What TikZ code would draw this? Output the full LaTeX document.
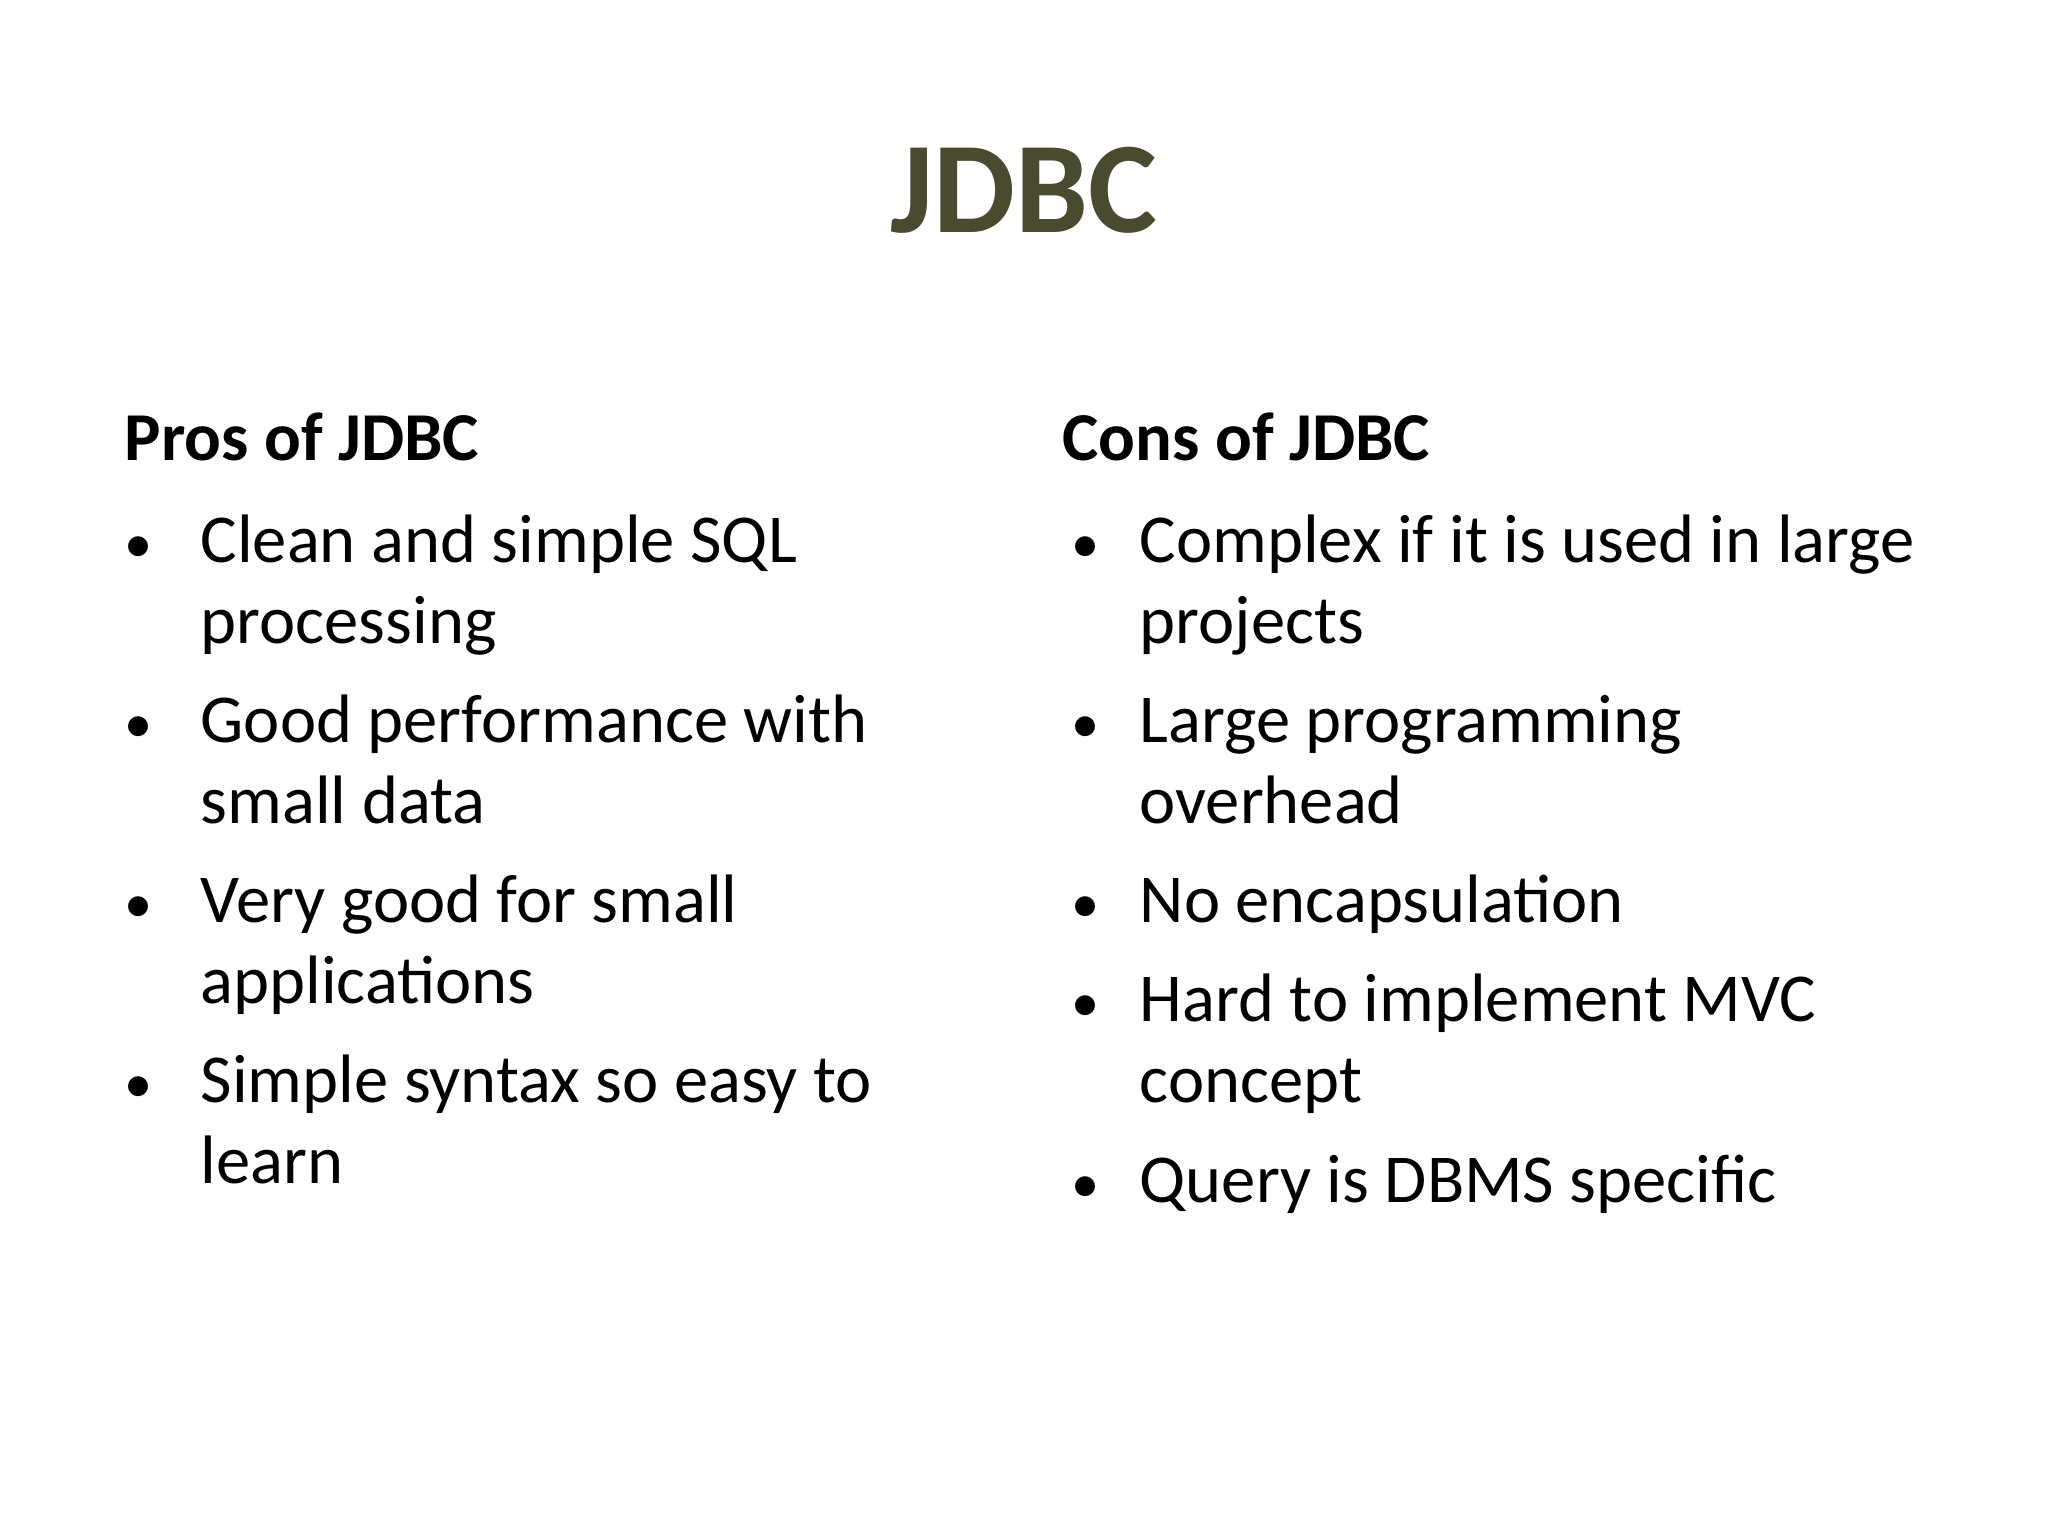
\documentclass[tikz,border=0pt]{standalone}
\usepackage{fontspec}
\setmainfont{Carlito}
\definecolor{titlecol}{HTML}{4A4A30}
\begin{document}
\begin{tikzpicture}[x=0.01cm,y=-0.01cm,
  txt/.style={anchor=base west,inner sep=0pt,font=\fontsize{19.5pt}{23pt}\selectfont},
  hd/.style={txt,font=\bfseries\fontsize{19.5pt}{23pt}\selectfont},
  bul/.style={anchor=base west,inner sep=0pt,font=\fontsize{16pt}{23pt}\selectfont}]
\useasboundingbox[fill=white] (0,0) rectangle (2048,1536);
\node[anchor=base,inner sep=0pt,text=titlecol,font=\bfseries\fontsize{37pt}{44pt}\selectfont] (title) at (1024,232) {JDBC};
\node[hd] (pros) at (124,460) {Pros of JDBC};
\node[hd] (cons) at (1062,460) {Cons of JDBC};
\foreach \y/\a/\b [count=\i] in {562/{Clean and simple SQL}/{processing},742/{Good performance with}/{small data},922/{Very good for small}/{applications},1102/{Simple syntax so easy to}/{learn}}{
  \node[bul] (pb\i) at (124,\y) {•};
  \node[txt] (p\i) at (200,\y) {\a};
  \node[txt] (q\i) at (200,\y+81) {\b};
}
\foreach \y/\t [count=\i] in {562/{Complex if it is used in large},742/{Large programming},922/{No encapsulation},1021/{Hard to implement MVC},1202/{Query is DBMS specific}}{
  \node[bul] (cb\i) at (1071,\y) {•};
  \node[txt] (c\i) at (1139,\y) {\t};
}
\node[txt] (d1) at (1139,643) {projects};
\node[txt] (d2) at (1139,823) {overhead};
\node[txt] (d4) at (1139,1102) {concept};
\end{tikzpicture}
\end{document}
